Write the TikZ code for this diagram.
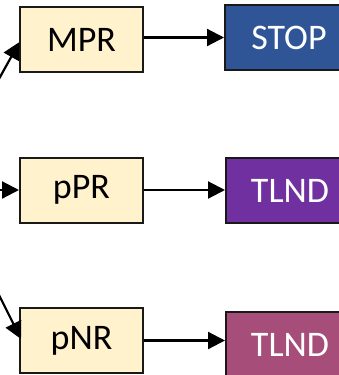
\documentclass[tikz,border=0pt]{standalone}
\usepackage{fontspec}
\setmainfont{Carlito}
\usetikzlibrary{arrows.meta}
\definecolor{cream}{HTML}{FFF2CC}
\definecolor{stopblue}{HTML}{2F5597}
\definecolor{tlndpurple}{HTML}{7030A0}
\definecolor{tlndrose}{HTML}{A64D79}
\tikzset{
  box/.style={draw=black!90, line width=2pt, inner sep=0pt,
    minimum width=123pt, minimum height=65pt,
    font=\fontsize{36}{42}\selectfont},
  statebox/.style={box, fill=cream, text=black},
  endbox/.style={box, minimum width=128pt, text=white},
  link/.style={line width=2.2pt, -{Triangle[length=17pt,width=17pt]}},
}
\begin{document}
\begin{tikzpicture}[x=1pt,y=-1pt]
  \useasboundingbox (0,0) rectangle (339,375);
  \clip (0,0) rectangle (339,375);

  % left column: the three states
  \node[statebox] (mpr) at (81.5,39.5) {MPR};
  \node[statebox] (ppr) at (81.5,190) {pPR};
  \node[statebox] (pnr) at (81.5,340.5) {pNR};

  % right column: outcomes
  \node[endbox, fill=stopblue]   (stop)  at (289,37.5)  {STOP};
  \node[endbox, fill=tlndpurple] (tlnda) at (290,190.5) {TLND};
  \node[endbox, fill=tlndrose]   (tlndb) at (290,344.5) {TLND};

  % incoming edges from the left
  \coordinate (inmpr) at (-10,95);
  \coordinate (inppr) at (-10,190);
  \coordinate (inpnr) at (-10,277);
  \draw[link] (inmpr) -- (19.5,42);
  \draw[link] (inppr) -- (ppr.west);
  \draw[link] (inpnr) -- (21,339);

  % state -> outcome
  \draw[link] (mpr.east |- stop.west) -- (stop.west);
  \draw[link] (ppr.east) -- (ppr.east -| tlnda.west);
  \draw[link] (pnr.east) -- (pnr.east -| tlndb.west);
\end{tikzpicture}
\end{document}
